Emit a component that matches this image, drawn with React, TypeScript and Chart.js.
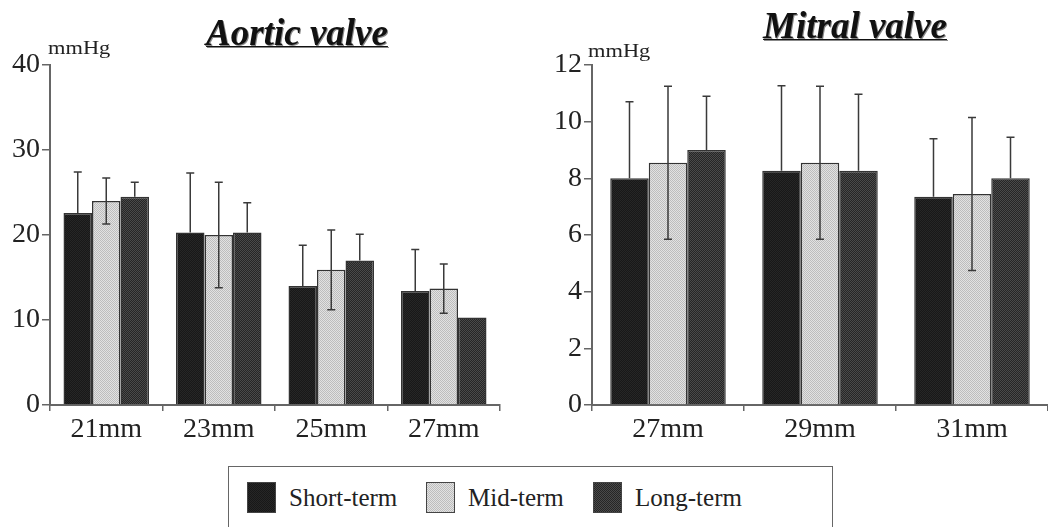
import React, { useEffect, useRef } from 'react';
import { Chart, registerables } from 'chart.js';
Chart.register(...registerables);

const seriesNames = ['Short-term', 'Mid-term', 'Long-term'];

const aorticSizes = ['21mm', '23mm', '25mm', '27mm'];
const aorticShort = [22.6, 20.3, 14.0, 13.4];
const aorticShortSD = [4.8, 7.0, 4.8, 4.9];
const aorticMid = [24.0, 20.0, 15.9, 13.7];
const aorticMidSD = [2.7, 6.2, 4.7, 2.9];
const aorticLong = [24.5, 20.3, 17.0, 10.3];
const aorticLongSD = [1.7, 3.5, 3.1, 0];

const mitralSizes = ['27mm', '29mm', '31mm'];
const mitralShort = [8.0, 8.27, 7.35];
const mitralShortSD = [2.7, 3.0, 2.05];
const mitralMid = [8.55, 8.55, 7.45];
const mitralMidSD = [2.7, 2.7, 2.7];
const mitralLong = [9.0, 8.27, 8.0];
const mitralLongSD = [1.9, 2.7, 1.45];

const FONT = '"Liberation Serif", "Times New Roman", serif';

type Pat = { pattern: CanvasPattern | string; url: string };
let patCache: Pat[] | null = null;
function getPatterns(): Pat[] {
  if (patCache) return patCache;
  const specs = [
    ['#181818', '#262626'],
    ['#e2e2e2', '#bdbdbd'],
    ['#262626', '#4a4a4a'],
  ];
  patCache = specs.map(([a, b]) => {
    const c = document.createElement('canvas');
    c.width = 4;
    c.height = 4;
    const g = c.getContext('2d')!;
    g.fillStyle = a;
    g.fillRect(0, 0, 4, 4);
    g.fillStyle = b;
    for (let x = 0; x < 4; x++) for (let y = 0; y < 4; y++) if ((x + y) % 2 === 0) g.fillRect(x, y, 1, 1);
    const p = g.createPattern(c, 'repeat');
    return { pattern: p || a, url: c.toDataURL() };
  });
  return patCache;
}

const errorBarPlugin = {
  id: 'errorBars',
  afterDatasetsDraw(chart: any) {
    const ctx = chart.ctx;
    const ys = chart.scales.y;
    chart.data.datasets.forEach((ds: any, i: number) => {
      const meta = chart.getDatasetMeta(i);
      const sds = ds.sd;
      if (!sds) return;
      meta.data.forEach((bar: any, j: number) => {
        const sd = sds[j];
        if (!sd) return;
        const v = ds.data[j];
        const x = bar.x;
        const yTop = ys.getPixelForValue(v + sd);
        const yLow = ds.lower ? ys.getPixelForValue(v - sd) : ys.getPixelForValue(v);
        ctx.save();
        ctx.strokeStyle = '#3a3a3a';
        ctx.lineWidth = 1.5;
        ctx.beginPath();
        ctx.moveTo(x, yLow);
        ctx.lineTo(x, yTop);
        ctx.moveTo(x - 4, yTop);
        ctx.lineTo(x + 4, yTop);
        if (ds.lower) {
          ctx.moveTo(x - 4, yLow);
          ctx.lineTo(x + 4, yLow);
        }
        ctx.stroke();
        ctx.restore();
      });
    });
  },
};

function buildConfig(labels: string[], vals: number[][], sds: number[][], max: number, step: number, padding: any): any {
  const pats = getPatterns();
  const tickFont = { family: FONT, size: 28 };
  return {
    type: 'bar',
    data: {
      labels,
      datasets: vals.map((v, i) => ({
        label: seriesNames[i],
        data: v,
        sd: sds[i],
        lower: i === 1,
        backgroundColor: pats[i].pattern,
        borderColor: '#333',
        borderWidth: 1.5,
        categoryPercentage: 0.76,
        barPercentage: 1,
      })),
    },
    options: {
      responsive: false,
      animation: false,
      layout: { padding },
      plugins: { legend: { display: false }, tooltip: { enabled: false }, title: { display: false } },
      scales: {
        x: {
          grid: { offset: true, drawOnChartArea: false, tickLength: 6, color: '#666', lineWidth: 1.5 },
          border: { color: '#666', width: 2 },
          ticks: { font: tickFont, color: '#222', padding: 2, maxRotation: 0 },
          afterFit: (s: any) => {
            s.height = 45;
          },
        },
        y: {
          min: 0,
          max,
          ticks: { stepSize: step, font: tickFont, color: '#222', padding: 2 },
          grid: { drawOnChartArea: false, tickLength: 8, color: '#666', lineWidth: 1.5 },
          border: { color: '#666', width: 2 },
          afterFit: (s: any) => {
            s.width = 50;
          },
        },
      },
    },
    plugins: [errorBarPlugin],
  };
}

const titleStyle: React.CSSProperties = {
  position: 'absolute',
  transform: 'translateX(-50%)',
  whiteSpace: 'nowrap',
  fontFamily: FONT,
  fontWeight: 'bold',
  fontStyle: 'italic',
  fontSize: 37,
  lineHeight: '37px',
  color: '#111',
  textDecoration: 'underline',
  textDecorationThickness: '1px',
  textShadow: '1px 1px 0 #888',
};

const unitStyle: React.CSSProperties = {
  position: 'absolute',
  fontFamily: FONT,
  fontSize: 19,
  lineHeight: '19px',
  color: '#222',
  whiteSpace: 'nowrap',
  transform: 'scaleX(1.18)',
  transformOrigin: 'left top',
};

export default function App() {
  const c1 = useRef<HTMLCanvasElement>(null);
  const c2 = useRef<HTMLCanvasElement>(null);

  useEffect(() => {
    const ch1 = new Chart(
      c1.current!,
      buildConfig(aorticSizes, [aorticShort, aorticMid, aorticLong], [aorticShortSD, aorticMidSD, aorticLongSD], 40, 10, {
        top: 65,
        left: 0,
        right: 20,
        bottom: 0,
      })
    );
    const ch2 = new Chart(
      c2.current!,
      buildConfig(mitralSizes, [mitralShort, mitralMid, mitralLong], [mitralShortSD, mitralMidSD, mitralLongSD], 12, 2, {
        top: 65,
        left: 22,
        right: 0,
        bottom: 0,
      })
    );
    return () => {
      ch1.destroy();
      ch2.destroy();
    };
  }, []);

  const pats = getPatterns();
  const legendX = [247, 426, 593];

  return (
    <div style={{ position: 'absolute', left: 0, top: 0, width: 1048, height: 527, overflow: 'hidden', background: '#fff' }}>
      <canvas ref={c1} width={520} height={450} style={{ position: 'absolute', left: 0, top: 0 }} />
      <canvas ref={c2} width={528} height={450} style={{ position: 'absolute', left: 520, top: 0 }} />
      <div style={{ ...titleStyle, left: 297, top: 14 }}>Aortic valve</div>
      <div style={{ ...titleStyle, left: 855, top: 7 }}>Mitral valve</div>
      <div style={{ ...unitStyle, left: 48, top: 38 }}>mmHg</div>
      <div style={{ ...unitStyle, left: 588, top: 41 }}>mmHg</div>
      <div
        style={{
          position: 'absolute',
          left: 228,
          top: 466,
          width: 605,
          height: 90,
          border: '1.5px solid #666',
          boxSizing: 'border-box',
        }}
      />
      {seriesNames.map((n, i) => (
        <React.Fragment key={n}>
          <div
            style={{
              position: 'absolute',
              left: legendX[i],
              top: 482,
              width: 29,
              height: 31,
              boxSizing: 'border-box',
              border: '1px solid #444',
              backgroundImage: `url(${pats[i].url})`,
            }}
          />
          <div
            style={{
              position: 'absolute',
              left: legendX[i] + 42,
              top: 483,
              fontFamily: FONT,
              fontSize: 25,
              lineHeight: '29px',
              color: '#222',
              whiteSpace: 'nowrap',
            }}
          >
            {n}
          </div>
        </React.Fragment>
      ))}
    </div>
  );
}
